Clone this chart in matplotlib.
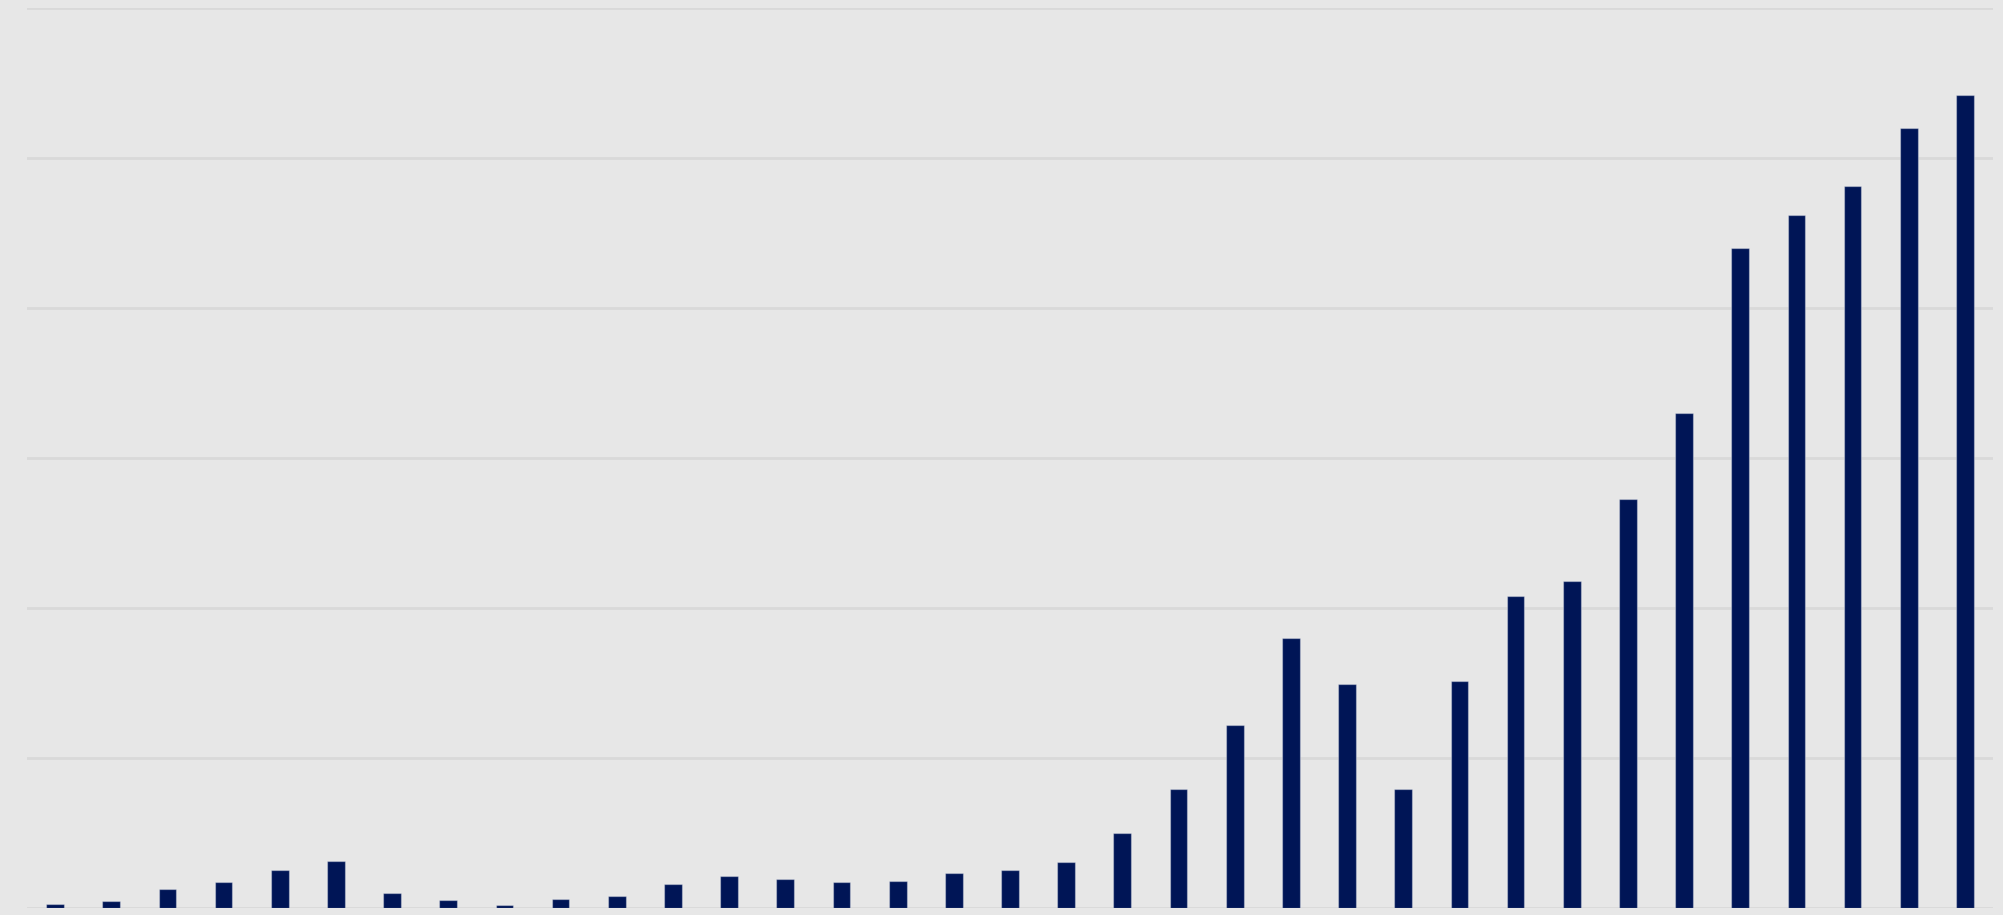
import numpy as np
import matplotlib
matplotlib.use('Agg')
import matplotlib.pyplot as plt

# values (in gridline units)
VALUES = [0.024, 0.044, 0.124, 0.167, 0.249, 0.313, 0.098, 0.049, 0.016, 0.058,
          0.076, 0.158, 0.211, 0.189, 0.167, 0.178, 0.231, 0.251, 0.302, 0.50,
          0.79, 1.22, 1.80, 1.49, 0.79, 1.51, 2.08, 2.18, 2.72, 3.30,
          4.40, 4.62, 4.81, 5.20, 5.42]
GRID_TICKS = [0, 1, 2, 3, 4, 5, 6]

BG = '#e7e7e7'
BAR = '#001556'
GRID = '#d9d9d9'

fig = plt.figure(figsize=(20.03, 9.15), dpi=100, facecolor=BG)
ax = fig.add_axes([27 / 2003, 7.5 / 915, (1993 - 27) / 2003, 900 / 915])
ax.set_facecolor(BG)

x = np.arange(len(VALUES))
ax.bar(x, VALUES, width=0.315, color=BAR, edgecolor=(1, 1, 1, 0.35),
       linewidth=0.9, zorder=3)

ax.set_xlim(-0.5, len(VALUES) - 0.5)
ax.set_ylim(0, 6)
ax.set_yticks(GRID_TICKS)
ax.yaxis.grid(True, color=GRID, linewidth=2, zorder=0)
ax.set_axisbelow(True)
ax.tick_params(left=False, bottom=False, labelleft=False, labelbottom=False)
for s in ax.spines.values():
    s.set_visible(False)

fig.savefig('out.png', dpi=100, facecolor=BG)
